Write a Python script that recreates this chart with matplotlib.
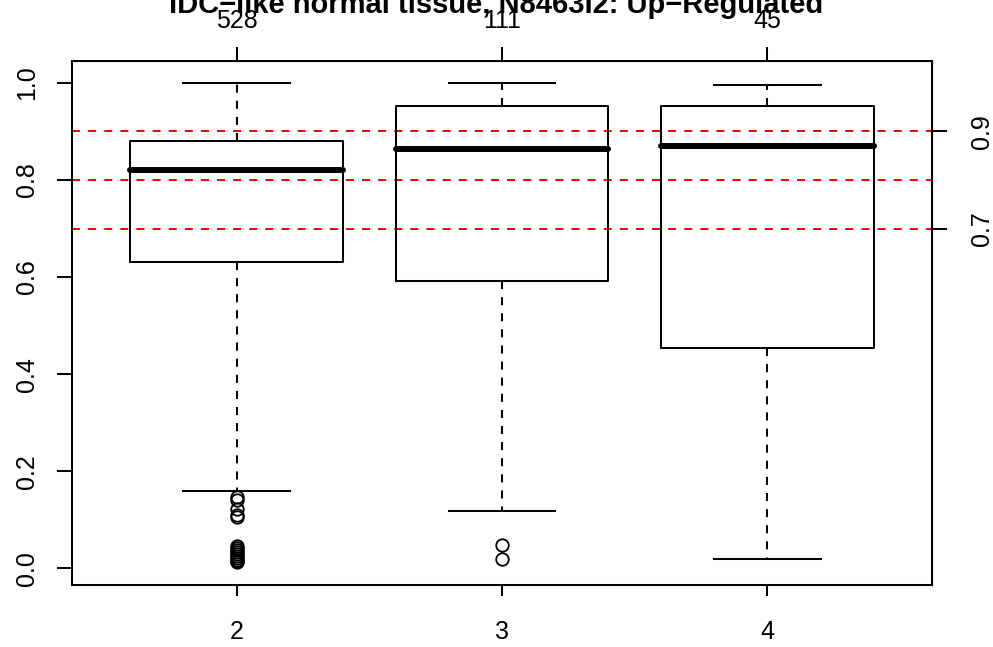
import matplotlib
matplotlib.use("Agg")
import matplotlib.pyplot as plt

plt.rcParams['font.family'] = ['Liberation Sans', 'DejaVu Sans']

# ---- data ----
groups = ["2", "3", "4"]
counts = ["528", "111", "45"]
q1 = [0.631, 0.592, 0.455]
median = [0.821, 0.864, 0.870]
q3 = [0.880, 0.953, 0.953]
whislo = [0.160, 0.118, 0.020]
whishi = [1.000, 1.000, 0.996]
fliers = [
    [0.148, 0.140, 0.123, 0.110, 0.105,
     0.046, 0.042, 0.038, 0.034, 0.030, 0.026, 0.022, 0.018, 0.015, 0.013],
    [0.048, 0.019],
    [],
]
thresholds = [0.7, 0.8, 0.9]
right_ticks = [0.7, 0.9]
yticks = [0.0, 0.2, 0.4, 0.6, 0.8, 1.0]
title = "IDC\u2212like normal tissue, N8463I2: Up\u2212Regulated"

fig = plt.figure(figsize=(9.93, 6.47), dpi=100)
ax = fig.add_axes([72/993, 1 - 585/647, (932 - 72)/993, (585 - 61)/647])

positions = [1, 2, 3]
stats = []
for i in range(len(groups)):
    stats.append(dict(med=median[i], q1=q1[i], q3=q3[i],
                      whislo=whislo[i], whishi=whishi[i], fliers=fliers[i]))

lw = 1.45
ax.bxp(stats, positions=positions, widths=0.8, capwidths=0.4,
       boxprops=dict(color='black', lw=lw),
       whiskerprops=dict(color='black', lw=lw, linestyle=(0, (4, 4))),
       capprops=dict(color='black', lw=lw),
       medianprops=dict(color='black', lw=4.3, solid_capstyle='round'),
       flierprops=dict(marker='o', markerfacecolor='none', markeredgecolor='black',
                       markersize=9, markeredgewidth=1.3, linestyle='none'),
       manage_ticks=False)

for t in thresholds:
    ax.axhline(t, color='red', lw=lw, linestyle=(0, (4, 4)), zorder=0)

ax.set_xlim(0.38, 3.62)
ax.set_ylim(-0.034, 1.045)

for s in ax.spines.values():
    s.set_linewidth(lw)

fs = 18
ax.set_xticks(positions)
ax.set_xticklabels(groups, fontsize=fs)
ax.tick_params(axis='x', length=8, width=lw, pad=17)
ax.set_yticks(yticks)
ax.set_yticklabels([f"{v:.1f}" for v in yticks], fontsize=fs, rotation=90, va='center')
ax.tick_params(axis='y', length=11, width=lw, pad=13)

top = ax.secondary_xaxis('top')
top.set_xticks(positions)
top.set_xticklabels(counts, fontsize=fs)
top.tick_params(axis='x', length=10, width=lw, pad=10)

right = ax.secondary_yaxis('right')
right.set_yticks(right_ticks)
right.set_yticklabels([f"{v:.1f}" for v in right_ticks], fontsize=fs, rotation=90, va='center')
right.tick_params(axis='y', length=11, width=lw, pad=16)

fig.text(0.5, 1 - 13/647, title, ha='center', va='baseline', fontsize=21, fontweight='bold')

fig.savefig("out.png", dpi=100)
